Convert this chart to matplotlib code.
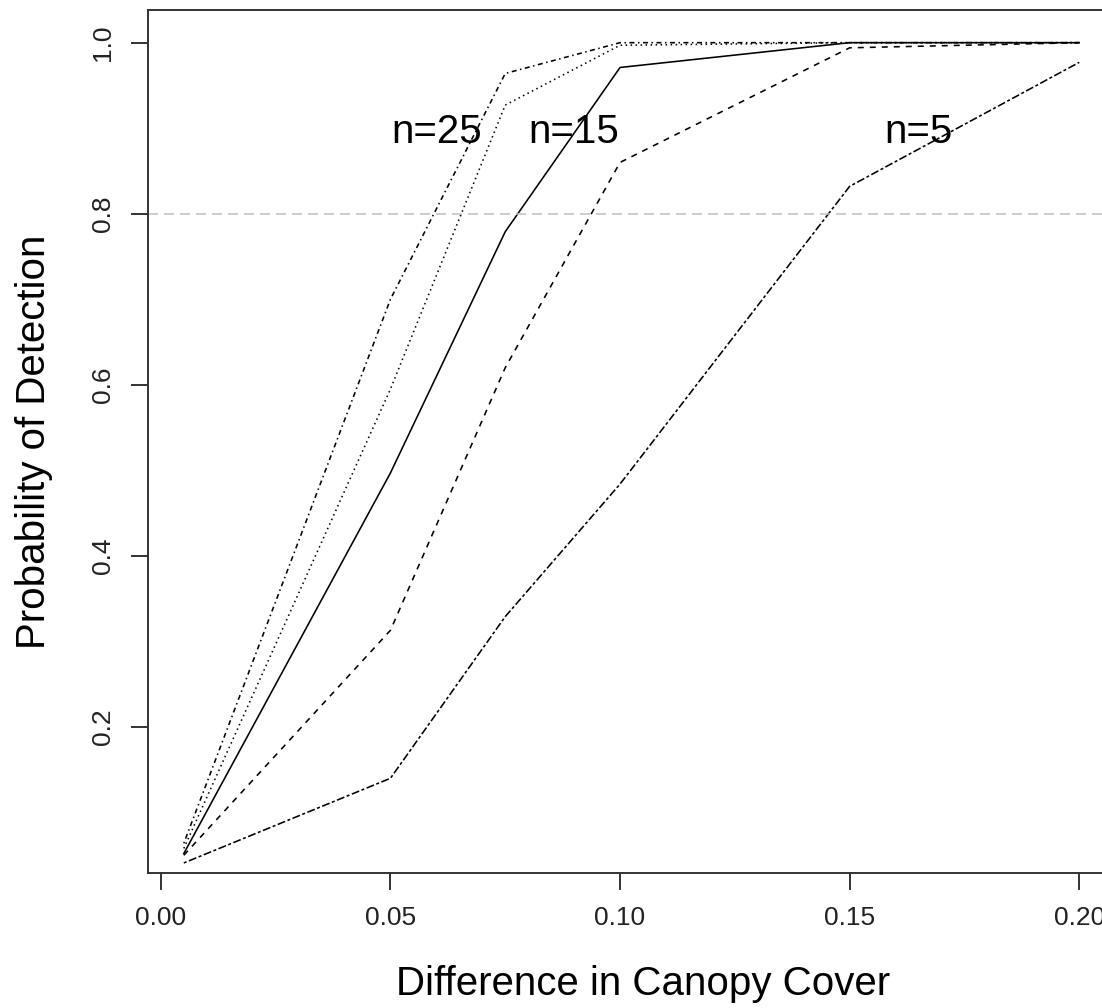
import matplotlib
matplotlib.use("Agg")
import matplotlib.pyplot as plt

plt.rcParams['font.family'] = ['Liberation Sans', 'DejaVu Sans']
plt.rcParams['lines.scale_dashes'] = False

# Data
diff = [0.005, 0.05, 0.075, 0.10, 0.15, 0.20]
p_n25 = [0.064, 0.700, 0.964, 1.000, 1.000, 1.000]
p_n20 = [0.058, 0.595, 0.927, 0.997, 1.000, 1.000]
p_n15 = [0.052, 0.497, 0.779, 0.971, 1.000, 1.000]
p_n10 = [0.050, 0.313, 0.620, 0.860, 0.994, 1.000]
p_n5 = [0.041, 0.140, 0.329, 0.484, 0.832, 0.977]
labels = ["n=25", "n=15", "n=5"]
label_x = [0.06, 0.09, 0.165]
label_y = [0.895, 0.895, 0.895]
threshold = 0.8
xticks = [0.00, 0.05, 0.10, 0.15, 0.20]
xticklabels = ["0.00", "0.05", "0.10", "0.15", "0.20"]
yticks = [0.2, 0.4, 0.6, 0.8, 1.0]
yticklabels = ["0.2", "0.4", "0.6", "0.8", "1.0"]

px = 0.72  # points per pixel at 100 dpi
fig = plt.figure(figsize=(11.02, 10.08), dpi=100)
ax = fig.add_axes([148/1102, 135.3/1008, (1138-148)/1102, (872.7-10)/1008])

lw = 1.15
series = [
    (p_n25, (0, (1.5*px, 3.5*px, 5*px, 3.5*px))),
    (p_n20, (0, (1.5*px, 3.5*px))),
    (p_n15, '-'),
    (p_n10, (0, (6*px, 6*px))),
    (p_n5, (0, (3*px, 2.5*px, 8*px, 2.5*px))),
]
for ys, ls in series:
    ax.plot(diff, ys, color='black', lw=lw, linestyle=ls)

ax.axhline(threshold, color='#c0c0c0', lw=1.1, linestyle=(0, (10*px, 6*px)))

for t, x, y in zip(labels, label_x, label_y):
    ax.text(x, y, t, fontsize=29, ha='center', va='center', color='black')

ax.set_xlim(-0.0028, 0.2128)
ax.set_ylim(0.0296, 1.0382)
ax.set_xticks(xticks)
ax.set_xticklabels(xticklabels)
ax.set_yticks(yticks)
ax.set_yticklabels(yticklabels, rotation=90, va='center')

for s in ax.spines.values():
    s.set_color('#333333')
    s.set_linewidth(1.4)

ax.tick_params(axis='both', length=12, width=1.4, color='#333333', labelsize=19,
               labelcolor='#222222', direction='out')
ax.tick_params(axis='x', pad=12)
ax.tick_params(axis='y', pad=12)

ax.set_xlabel("Difference in Canopy Cover", fontsize=29, labelpad=25)
ax.set_ylabel("Probability of Detection", fontsize=29, labelpad=27)

fig.savefig("out.png", dpi=100)
